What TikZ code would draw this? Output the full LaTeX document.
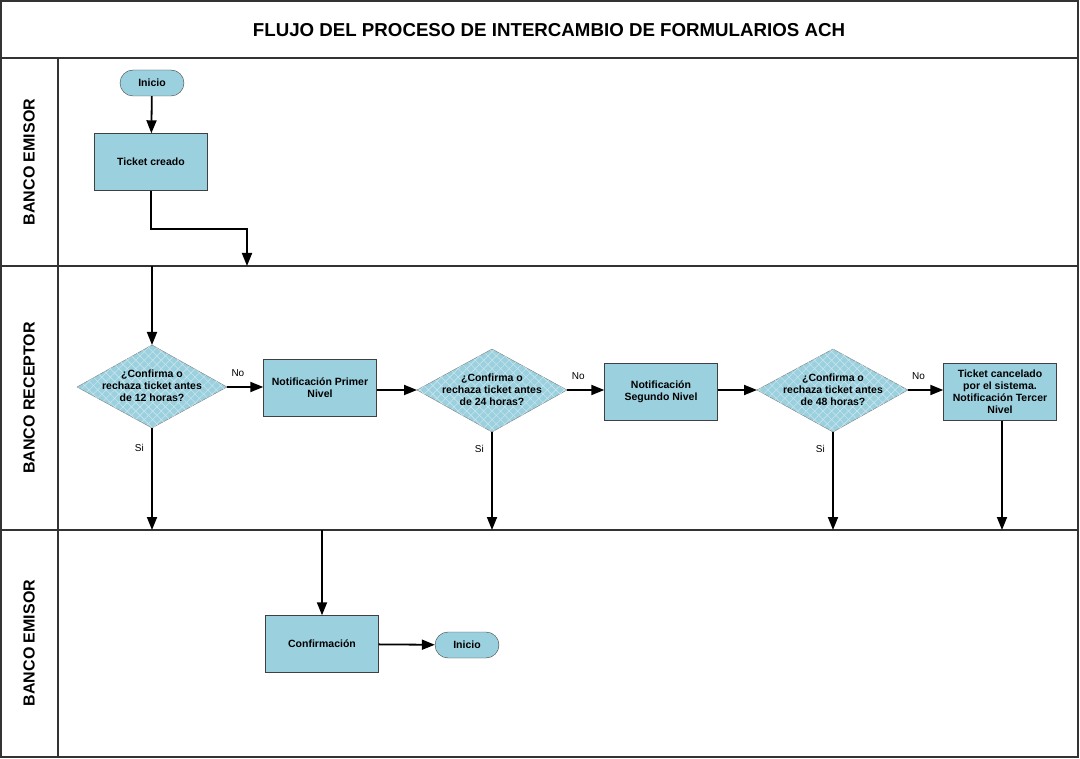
\documentclass[tikz,border=0pt]{standalone}
\usepackage{fontspec}
\setmainfont{Liberation Sans}
\usepackage{xcolor}
\usetikzlibrary{arrows.meta,patterns.meta}
\definecolor{procblue}{HTML}{9BD0DE}
\definecolor{framegray}{HTML}{333333}

\begin{document}
\begin{tikzpicture}[x=1pt, y=-1pt,
  proc/.style = {draw=black!75, fill=procblue, minimum width=113pt, minimum height=57pt, align=center, font=\fontsize{10.5}{12}\selectfont\bfseries, inner sep=2pt},
  term/.style = {draw=black!75, fill=procblue, rounded corners=13pt, minimum width=64pt, minimum height=26pt, font=\fontsize{10.5}{12}\selectfont\bfseries},
  decision/.style = {draw=black!50, fill=procblue,
    postaction={pattern={Lines[angle=45, distance=6pt, line width=0.6pt]}, pattern color=white!45!procblue},
    postaction={pattern={Lines[angle=-45, distance=6pt, line width=0.6pt]}, pattern color=white!45!procblue}},
  dtext/.style = {align=center, font=\fontsize{10.5}{12}\selectfont\bfseries},
  lane/.style = {rotate=90, font=\fontsize{16}{18}\selectfont\bfseries},
  lbl/.style = {font=\fontsize{10}{12}\selectfont},
  arr/.style = {draw, line width=1.8pt, -{Triangle[length=13pt, width=10pt]}},
  sep/.style = {draw=framegray, line width=1.5pt}]
\useasboundingbox (0,0) rectangle (1080,759);

% lanes
\draw[sep] (1,1) rectangle (1078,757);
\draw[sep] (1,58) -- (1078,58);
\draw[sep] (1,266) -- (1078,266);
\draw[sep] (1,530) -- (1078,530);
\draw[sep] (58,58) -- (58,757);
\node[font=\fontsize{18.7}{22}\selectfont\bfseries] (title) at (549,30) {FLUJO DEL PROCESO DE INTERCAMBIO DE FORMULARIOS ACH};
\node[lane] (lane1) at (29,162) {BANCO EMISOR};
\node[lane] (lane2) at (29,398) {BANCO RECEPTOR};
\node[lane] (lane3) at (29,643) {BANCO EMISOR};

% nodes
\node[term] (ini) at (152,83) {Inicio};
\node[proc] (ticket) at (151,162) {Ticket creado};
\coordinate (c1) at (247,266);
\coordinate (c2) at (152,266);
\draw[decision] (77,387) -- (152,345) -- (227,387) -- (152,428) -- cycle;
\node[dtext] (d1) at (152,386) {¿Confirma o\\rechaza ticket antes\\de 12 horas?};
\node[proc] (n1) at (320,388) {Notificación Primer\\Nivel};
\draw[decision] (417,390) -- (492,349) -- (567,390) -- (492,432) -- cycle;
\node[dtext] (d2) at (492,390) {¿Confirma o\\rechaza ticket antes\\de 24 horas?};
\node[proc] (n2) at (661,392) {Notificación\\Segundo Nivel};
\draw[decision] (757,390) -- (833,349) -- (908,390) -- (833,432) -- cycle;
\node[dtext] (d3) at (833,390) {¿Confirma o\\rechaza ticket antes\\de 48 horas?};
\node[proc] (n3) at (1000,392) {Ticket cancelado\\por el sistema.\\Notificación Tercer\\Nivel};
\coordinate (s1) at (152,530);
\coordinate (s2) at (492,530);
\coordinate (s3) at (833,530);
\coordinate (s4) at (1002,530);
\coordinate (c3) at (322,530);
\node[proc] (conf) at (322,644) {Confirmación};
\node[term] (fin) at (467,645) {Inicio};

% connectors
\draw[arr] (ini) -- (ticket);
\draw[arr] (ticket.south) -- ++(0,38) -| (c1);
\draw[arr] (c2) -- (152,345);
\draw[arr] (227,387) -- node[lbl, pos=0.3, above=6pt] {No} (n1.west |- 0,387);
\draw[arr] (n1.east |- 0,390) -- (417,390);
\draw[arr] (567,390) -- node[lbl, pos=0.3, above=6pt] {No} (n2.west |- 0,390);
\draw[arr] (n2.east |- 0,390) -- (757,390);
\draw[arr] (908,390) -- node[lbl, pos=0.3, above=6pt] {No} (n3.west |- 0,390);
\draw[arr] (152,428) -- node[lbl, pos=0.2, left=4pt] {Si} (s1);
\draw[arr] (492,432) -- node[lbl, pos=0.17, left=4pt] {Si} (s2);
\draw[arr] (833,432) -- node[lbl, pos=0.17, left=4pt] {Si} (s3);
\draw[arr] (n3.south -| s4) -- (s4);
\draw[arr] (c3) -- (conf);
\draw[arr] (conf) -- (fin);
\end{tikzpicture}
\end{document}
